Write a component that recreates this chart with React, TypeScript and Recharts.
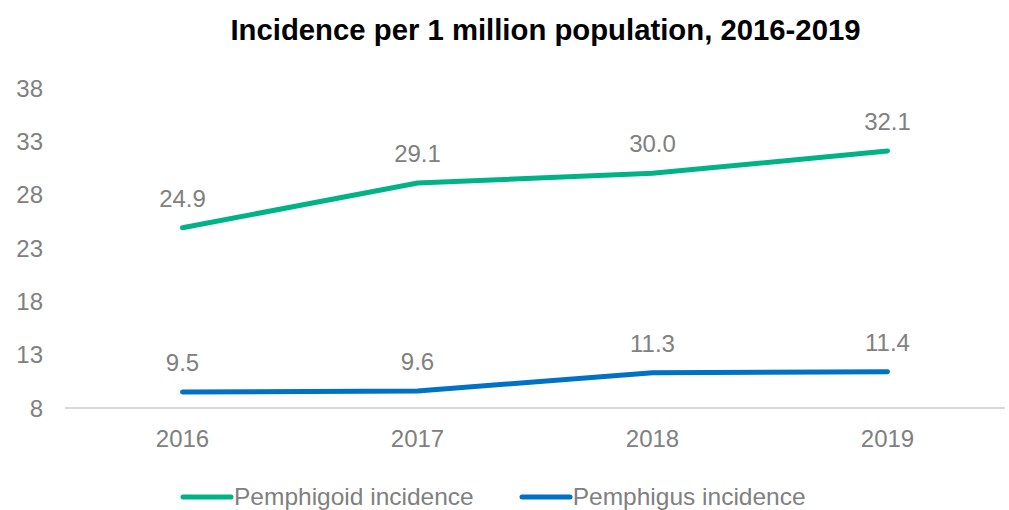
import { LineChart, Line, XAxis, YAxis, LabelList, Legend } from "recharts"

const years = ["2016", "2017", "2018", "2019"]
const pemphigoid = [24.9, 29.1, 30.0, 32.1]
const pemphigus = [9.5, 9.6, 11.3, 11.4]
const yTicks = [8, 13, 18, 23, 28, 33, 38]

const GREEN = "#00B386"
const BLUE = "#0072C6"
const GRAY = "#808080"
const FONT = "'Liberation Sans', Arial, sans-serif"

const data = years.map((year, i) => ({
  year,
  pemphigoid: pemphigoid[i],
  pemphigus: pemphigus[i],
}))

function LegendContent({ payload }: any) {
  return (
    <div style={{ display: "flex", alignItems: "center", fontFamily: FONT, fontSize: 24.5, color: GRAY }}>
      {(payload || []).map((entry: any, i: number) => (
        <div key={`legend-${i}`} style={{ display: "flex", alignItems: "center", marginRight: 45 }}>
          <svg width={54} height={10} style={{ display: "block" }}>
            <line x1={3} y1={5} x2={51} y2={5} stroke={entry.color} strokeWidth={5} strokeLinecap="round" />
          </svg>
          <span style={{ lineHeight: "28px" }}>{entry.value}</span>
        </div>
      ))}
    </div>
  )
}

export default function App() {
  return (
    <div style={{ position: "absolute", left: 0, top: 0, width: 1009, height: 510, background: "#fff" }}>
      <div
        style={{
          position: "absolute",
          left: 0,
          top: 14.5,
          width: 1091,
          textAlign: "center",
          fontFamily: FONT,
          fontWeight: "bold",
          fontSize: 29.3,
          lineHeight: "29px",
          color: "#000",
          whiteSpace: "nowrap",
        }}
      >
        Incidence per 1 million population, 2016-2019
      </div>
      <LineChart width={1009} height={510} data={data} margin={{ top: 88, right: 4, bottom: 42, left: 0 }}>
        <XAxis
          dataKey="year"
          scale="band"
          tickLine={false}
          tickSize={0}
          tickMargin={22}
          axisLine={{ stroke: "#d9d9d9", strokeWidth: 2 }}
          tick={{ fill: GRAY, fontSize: 24, fontFamily: FONT }}
          height={60}
        />
        <YAxis
          domain={[8, 38]}
          ticks={yTicks}
          width={65}
          axisLine={false}
          tickLine={false}
          tickSize={0}
          tickMargin={22}
          tick={{ fill: GRAY, fontSize: 24, fontFamily: FONT }}
        />
        <Legend
          layout="horizontal"
          verticalAlign="middle"
          align="center"
          wrapperStyle={{ top: 483, left: 180, width: "auto" }}
          content={<LegendContent />}
        />
        <Line
          type="linear"
          dataKey="pemphigoid"
          name="Pemphigoid incidence"
          stroke={GREEN}
          strokeWidth={5}
          strokeLinecap="round"
          dot={false}
          activeDot={false}
          isAnimationActive={false}
        >
          <LabelList
            dataKey="pemphigoid"
            position="top"
            offset={21}
            formatter={(v: any) => Number(v).toFixed(1)}
            style={{ fill: GRAY, fontSize: 24, fontFamily: FONT }}
          />
        </Line>
        <Line
          type="linear"
          dataKey="pemphigus"
          name="Pemphigus incidence"
          stroke={BLUE}
          strokeWidth={5}
          strokeLinecap="round"
          dot={false}
          activeDot={false}
          isAnimationActive={false}
        >
          <LabelList
            dataKey="pemphigus"
            position="top"
            offset={21}
            formatter={(v: any) => Number(v).toFixed(1)}
            style={{ fill: GRAY, fontSize: 24, fontFamily: FONT }}
          />
        </Line>
      </LineChart>
    </div>
  )
}
